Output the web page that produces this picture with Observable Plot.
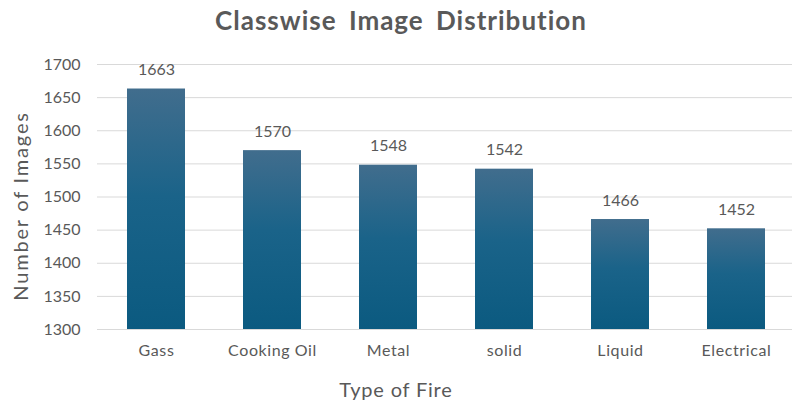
<!DOCTYPE html>
<html>
<head>
<meta charset="utf-8">
<script src="https://cdn.jsdelivr.net/npm/d3@7"></script>
<script src="https://cdn.jsdelivr.net/npm/@observablehq/plot@0.6"></script>
<style>
  html, body { margin: 0; padding: 0; background: #fff; }
  #wrap { position: relative; width: 792px; height: 405px; overflow: hidden; font-family: Lato, "Open Sans", sans-serif; }
  #title { height: 42px; line-height: 40px; text-align: center; font-size: 26px; font-weight: bold; color: #595959; padding-left: 10px; box-sizing: border-box; letter-spacing: 1px; word-spacing: 5px; }
  .axis-title { position: absolute; font-size: 20px; color: #595959; white-space: nowrap; letter-spacing: 0.8px; }
  #xlabel { left: 0; width: 792px; text-align: center; top: 377px; }
  #ylabel { left: 20px; top: 206px; transform: translate(-50%, -50%) rotate(-90deg); letter-spacing: 1.8px; }
  #chart svg g[aria-label="x-axis tick label"] text { letter-spacing: 0.6px; }
</style>
</head>
<body>
<div id="wrap">
  <div id="title">Classwise Image Distribution</div>
  <div id="chart"></div>
  <div id="xlabel" class="axis-title">Type of Fire</div>
  <div id="ylabel" class="axis-title">Number of Images</div>
</div>
<script>
// Image counts per fire class
const fireTypes = ["Gass", "Cooking Oil", "Metal", "solid", "Liquid", "Electrical"];
const imageCounts = [1663, 1570, 1548, 1542, 1466, 1452];
const yTicks = [1300, 1350, 1400, 1450, 1500, 1550, 1600, 1650, 1700];

const rows = fireTypes.map((type, i) => ({type, count: imageCounts[i]}));

const chart = Plot.plot({
  width: 792,
  height: 363,
  marginTop: 22,
  marginBottom: 76,
  marginLeft: 97,
  marginRight: 0,
  style: {fontFamily: "Lato, 'Open Sans', sans-serif", fontSize: "16px", color: "#595959", background: "#fff"},
  x: {domain: fireTypes, range: [95.6, 796.4], paddingInner: 0.5, paddingOuter: 0.25, label: null, tickSize: 0, tickPadding: 15},
  y: {domain: [1300, 1700], ticks: yTicks, label: null, tickSize: 0, tickPadding: 17, tickFormat: d => String(d)},
  marks: [
    Plot.ruleY(yTicks, {stroke: "#d9d9d9", strokeWidth: 1}),
    Plot.barY(rows, {x: "type", y1: 1300, y2: "count", fill: "url(#barGradient)"}),
    Plot.text(rows, {x: "type", y: "count", text: d => String(d.count), dy: -19, fill: "#595959", fontSize: 16})
  ]
});

// Vertical blue gradient applied to each bar
const ns = "http://www.w3.org/2000/svg";
const defs = document.createElementNS(ns, "defs");
const grad = document.createElementNS(ns, "linearGradient");
grad.setAttribute("id", "barGradient");
grad.setAttribute("x1", "0"); grad.setAttribute("y1", "0");
grad.setAttribute("x2", "0"); grad.setAttribute("y2", "1");
[["0%", "#416d8d"], ["45%", "#1a6389"], ["100%", "#0b5a80"]].forEach(([o, c]) => {
  const s = document.createElementNS(ns, "stop");
  s.setAttribute("offset", o);
  s.setAttribute("stop-color", c);
  grad.appendChild(s);
});
defs.appendChild(grad);
chart.insertBefore(defs, chart.firstChild);

document.getElementById("chart").appendChild(chart);
</script>
</body>
</html>
